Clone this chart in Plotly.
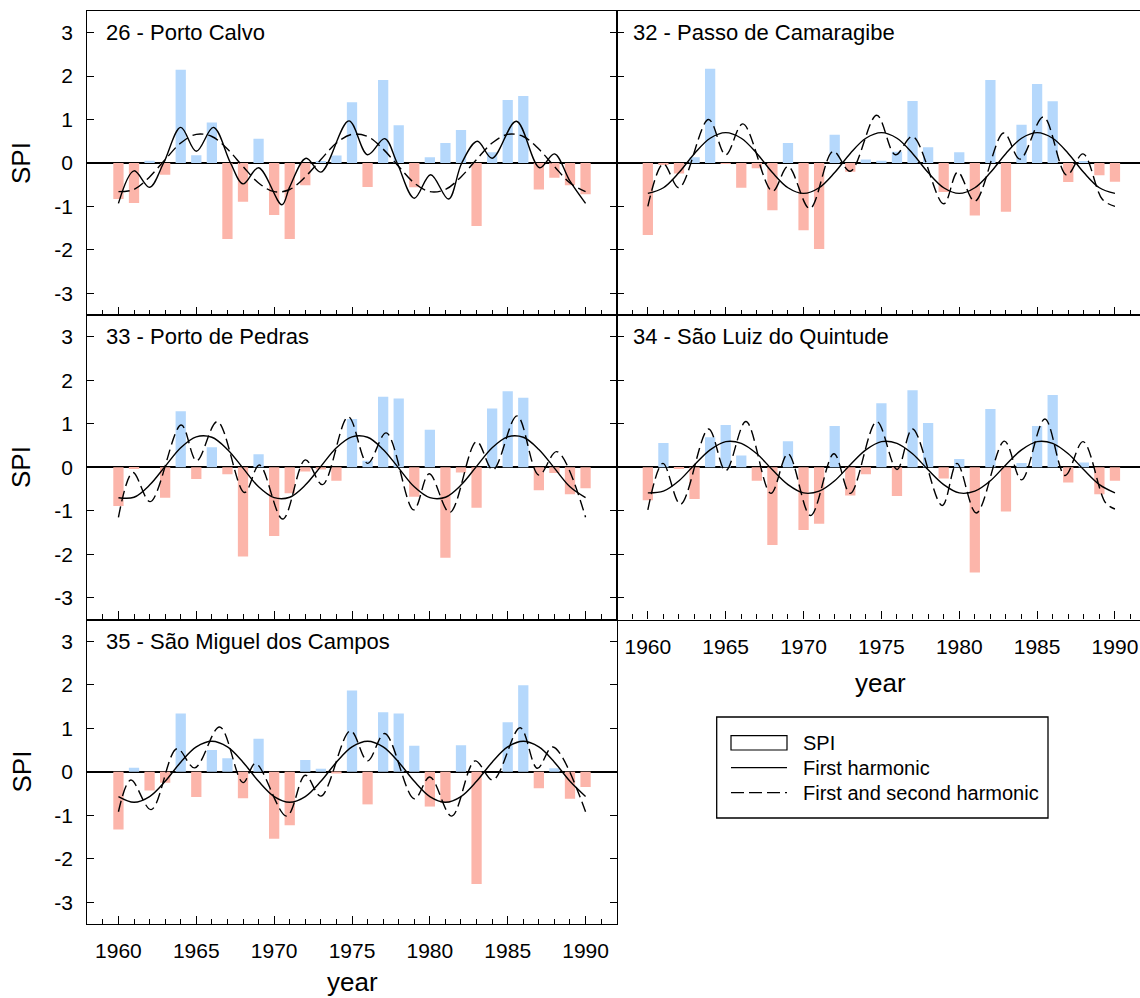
import plotly.graph_objects as go

# ---------------- data ----------------
years = list(range(1960, 1991))

titles = ["26 - Porto Calvo", "32 - Passo de Camaragibe", "33 - Porto de Pedras",
          "34 - São Luiz do Quintude", "35 - São Miguel dos Campos"]

spi_26 = [-0.83, -0.92, 0.05, -0.27, 2.15, 0.18, 0.93, -1.75, -0.89, 0.56,
          -1.20, -1.75, -0.51, 0.03, 0.17, 1.40, -0.55, 1.91, 0.87, -0.56,
          0.13, 0.46, 0.76, -1.45, 0.25, 1.45, 1.54, -0.61, -0.34, -0.51, -0.72]
spi_32 = [-1.66, -0.04, -0.24, 0.13, 2.17, -0.02, -0.57, -0.12, -1.09, 0.46,
          -1.55, -1.98, 0.65, -0.20, 0.08, 0.05, 0.26, 1.43, 0.36, -0.67,
          0.25, -1.21, 1.91, -1.12, 0.88, 1.82, 1.42, -0.44, 0.03, -0.28, -0.43]
spi_33 = [-0.89, -0.04, 0.0, -0.70, 1.29, -0.27, 0.46, -0.16, -2.05, 0.30,
          -1.58, -0.60, -0.10, -0.05, -0.31, 1.11, 0.15, 1.62, 1.58, -0.68,
          0.86, -2.08, -0.12, -0.93, 1.35, 1.75, 1.60, -0.53, -0.13, -0.62, -0.48]
spi_34 = [-0.76, 0.56, -0.04, -0.73, 0.69, 0.97, 0.27, -0.31, -1.79, 0.60,
          -1.44, -1.30, 0.95, -0.65, -0.16, 1.47, -0.66, 1.77, 1.02, -0.26,
          0.19, -2.42, 1.34, -1.02, 0.10, 0.95, 1.66, -0.35, 0.11, -0.62, -0.31]
spi_35 = [-1.33, 0.09, -0.43, -0.25, 1.34, -0.58, 0.50, 0.31, -0.61, 0.76,
          -1.54, -1.23, 0.27, 0.07, -0.04, 1.87, -0.75, 1.37, 1.34, 0.60,
          -0.80, -0.71, 0.61, -2.58, 0.0, 1.14, 1.99, -0.38, 0.08, -0.62, -0.35]

# first harmonic, read at each year
h1_26 = [-0.66, -0.61, -0.32, 0.08, 0.46, 0.66, 0.61, 0.32, -0.08, -0.46,
         -0.66, -0.61, -0.32, 0.08, 0.46, 0.66, 0.61, 0.32, -0.08, -0.46,
         -0.66, -0.61, -0.32, 0.08, 0.46, 0.66, 0.61, 0.32, -0.08, -0.46, -0.66]
h1_32 = [-0.70, -0.57, -0.22, 0.22, 0.57, 0.70, 0.57, 0.22, -0.22, -0.57,
         -0.70, -0.57, -0.22, 0.22, 0.57, 0.70, 0.57, 0.22, -0.22, -0.57,
         -0.70, -0.57, -0.22, 0.22, 0.57, 0.70, 0.57, 0.22, -0.22, -0.57, -0.70]
h1_33 = [-0.70, -0.69, -0.41, 0.02, 0.45, 0.70, 0.69, 0.41, -0.02, -0.45,
         -0.70, -0.69, -0.41, 0.02, 0.45, 0.70, 0.69, 0.41, -0.02, -0.45,
         -0.70, -0.69, -0.41, 0.02, 0.45, 0.70, 0.69, 0.41, -0.02, -0.45, -0.70]
h1_34 = [-0.59, -0.55, -0.31, 0.06, 0.40, 0.59, 0.55, 0.31, -0.06, -0.40,
         -0.59, -0.55, -0.31, 0.06, 0.40, 0.59, 0.55, 0.31, -0.06, -0.40,
         -0.59, -0.55, -0.31, 0.06, 0.40, 0.59, 0.55, 0.31, -0.06, -0.40, -0.59]
h1_35 = [-0.57, -0.70, -0.57, -0.22, 0.22, 0.57, 0.70, 0.57, 0.22, -0.22,
         -0.57, -0.70, -0.57, -0.22, 0.22, 0.57, 0.70, 0.57, 0.22, -0.22,
         -0.57, -0.70, -0.57, -0.22, 0.22, 0.57, 0.70, 0.57, 0.22, -0.22, -0.57]

# first + second harmonic, read at its turning points
h12_x_26 = [1960.0, 1961.0, 1962.0, 1962.9, 1964.0, 1965.0, 1966.1, 1967.2, 1968.0, 1969.0,
            1970.5, 1971.0, 1972.05, 1973.0, 1974.8, 1976.0, 1977.1, 1977.9, 1979.0, 1980.05,
            1981.2, 1982.05, 1983.05, 1984.0, 1985.55, 1987.05, 1988.0, 1989.0, 1990.0]
h12_y_26 = [-0.93, -0.18, -0.56, 0.0, 0.82, 0.27, 0.82, 0.0, -0.48, -0.11,
            -0.96, -0.55, 0.11, -0.21, 0.97, 0.19, 0.56, 0.0, -0.81, -0.27,
            -0.83, 0.0, 0.50, 0.11, 0.96, -0.11, 0.21, -0.42, -0.93]
h12_x_32 = [1960.0, 1961.0, 1962.0, 1963.9, 1965.0, 1966.1, 1968.0, 1969.0, 1970.4, 1971.9,
            1973.0, 1974.7, 1975.9, 1977.0, 1979.0, 1979.9, 1981.0, 1982.85, 1983.9, 1985.4,
            1986.9, 1987.95, 1989.2, 1990.0]
h12_y_32 = [-1.0, -0.02, -0.57, 1.0, 0.19, 0.90, -0.65, -0.08, -1.05, 0.27,
            -0.19, 1.10, 0.19, 0.61, -0.94, -0.21, -0.88, 0.69, 0.09, 1.06,
            -0.28, 0.21, -0.84, -1.0]
h12_x_33 = [1960.0, 1960.93, 1962.04, 1964.03, 1965.02, 1966.35, 1968.1, 1969.05, 1970.55, 1972.0,
            1973.1, 1974.76, 1976.0, 1977.2, 1978.96, 1979.96, 1981.28, 1983.0, 1984.05, 1985.6,
            1987.0, 1988.15, 1990.0]
h12_y_33 = [-1.15, -0.12, -0.79, 0.97, 0.15, 1.05, -0.58, 0.05, -1.19, 0.17,
            -0.40, 1.16, 0.09, 0.79, -0.98, -0.15, -1.04, 0.59, -0.06, 1.18,
            -0.18, 0.36, -1.15]
h12_x_34 = [1960.0, 1960.97, 1962.1, 1963.9, 1965.0, 1966.3, 1967.9, 1969.0, 1970.45, 1971.95,
            1973.0, 1974.7, 1976.0, 1977.0, 1978.9, 1979.85, 1981.1, 1982.9, 1984.0, 1985.5,
            1986.8, 1987.95, 1989.4, 1990.0]
h12_y_34 = [-0.98, 0.09, -0.85, 0.88, -0.08, 1.05, -0.60, 0.31, -1.11, 0.31,
            -0.60, 1.05, -0.05, 0.88, -0.88, 0.09, -1.05, 0.60, -0.29, 1.11,
            -0.19, 0.59, -0.82, -0.96]
h12_x_35 = [1960.0, 1960.8, 1962.1, 1963.75, 1964.9, 1966.5, 1968.0, 1968.8, 1970.8, 1972.0,
            1973.0, 1974.9, 1976.0, 1977.1, 1979.0, 1980.0, 1981.4, 1982.9, 1984.05, 1985.8,
            1986.9, 1987.9, 1990.0]
h12_y_35 = [-0.92, -0.19, -0.87, 0.53, 0.09, 1.03, -0.25, 0.19, -1.02, -0.08,
            -0.56, 0.94, 0.25, 0.88, -0.62, -0.12, -1.02, 0.25, -0.19, 1.01,
            0.08, 0.57, -0.92]

y_tick_vals = [-3, -2, -1, 0, 1, 2, 3]
y_tick_text = ["-3", "-2", "-1", "0", "1", "2", "3"]
legend_labels = ["SPI", "First harmonic", "First and second harmonic"]

# ---------------- styling / layout ----------------
W, H = 1140, 998
FONT = "Liberation Sans, Arial, sans-serif"
BLUE = "#b5d8fc"
RED = "#fcb5aa"

col_px = [(87.3, 616.7), (616.7, 1140.0)]
row_px = [(11.0, 315.0), (315.0, 619.5), (619.5, 924.0)]
px_per_year = (616.7 - 87.3) / 34.0
x_ranges = [[1958, 1992], [1958, 1958 + (1140.0 - 616.7) / px_per_year]]

panels = [
    dict(spi=spi_26, h1=h1_26, hx=h12_x_26, hy=h12_y_26, row=0, col=0, swap=True),
    dict(spi=spi_32, h1=h1_32, hx=h12_x_32, hy=h12_y_32, row=0, col=1, swap=False),
    dict(spi=spi_33, h1=h1_33, hx=h12_x_33, hy=h12_y_33, row=1, col=0, swap=False),
    dict(spi=spi_34, h1=h1_34, hx=h12_x_34, hy=h12_y_34, row=1, col=1, swap=False),
    dict(spi=spi_35, h1=h1_35, hx=h12_x_35, hy=h12_y_35, row=2, col=0, swap=False),
]

fig = go.Figure()
layout_axes = {}
annotations = []
DASH = "11px,5px"

for i, p in enumerate(panels, start=1):
    xa, ya = f"x{i}", f"y{i}"
    colors = [BLUE if v >= 0 else RED for v in p["spi"]]
    fig.add_trace(go.Bar(x=years, y=p["spi"], width=0.66, marker=dict(color=colors, line=dict(width=0)),
                         xaxis=xa, yaxis=ya, showlegend=False, hoverinfo="x+y"))
    h1_dash = DASH if p["swap"] else "solid"
    h12_dash = "solid" if p["swap"] else DASH
    fig.add_trace(go.Scatter(x=years, y=p["h1"], mode="lines", xaxis=xa, yaxis=ya, showlegend=False,
                             line=dict(color="black", width=1.4, shape="spline", dash=h1_dash)))
    fig.add_trace(go.Scatter(x=p["hx"], y=p["hy"], mode="lines", xaxis=xa, yaxis=ya, showlegend=False,
                             line=dict(color="black", width=1.4, shape="spline", dash=h12_dash)))

    x0, x1 = col_px[p["col"]]
    y0, y1 = row_px[p["row"]]
    show_x_labels = i in (4, 5)
    key = "" if i == 1 else str(i)
    layout_axes["xaxis" + key] = dict(
        domain=[x0 / W, x1 / W], range=x_ranges[p["col"]], anchor=ya,
        showline=True, linecolor="black", linewidth=1.3, mirror=True,
        ticks="inside", ticklen=8, tickwidth=1.2, tickcolor="black",
        tickmode="linear", tick0=1960, dtick=5,
        minor=dict(ticks="inside", ticklen=5, tickwidth=1, tickcolor="black", dtick=1, tick0=1958, showgrid=False),
        showticklabels=show_x_labels, ticklabelstandoff=8,
        tickfont=dict(family=FONT, size=21, color="black"),
        showgrid=False, zeroline=False, fixedrange=True,
    )
    layout_axes["yaxis" + key] = dict(
        domain=[1 - y1 / H, 1 - y0 / H], range=[-3.5, 3.5], anchor=xa,
        showline=True, linecolor="black", linewidth=1.3,
        mirror="ticks" if p["col"] == 0 else False,
        ticks="inside", ticklen=7, tickwidth=1.2, tickcolor="black",
        tickmode="array", tickvals=y_tick_vals, ticktext=y_tick_text,
        showticklabels=(p["col"] == 0), ticklabelstandoff=9,
        tickfont=dict(family=FONT, size=21, color="black"),
        showgrid=False, zeroline=True, zerolinecolor="black", zerolinewidth=1.6, fixedrange=True,
    )
    # panel title
    tx = 104.0 if p["col"] == 0 else 630.5
    annotations.append(dict(text=titles[i - 1], xref="paper", yref=ya, x=tx / W, y=3.0,
                            xanchor="left", yanchor="middle", showarrow=False,
                            font=dict(family=FONT, size=22, color="black")))

# y-axis titles
for cy in (163.3, 467.3, 771.8):
    annotations.append(dict(text="SPI", xref="paper", yref="paper", x=21.7 / W, y=1 - cy / H,
                            textangle=-90, xanchor="center", yanchor="middle", showarrow=False,
                            font=dict(family=FONT, size=26, color="black")))
# x-axis titles
for cx, cy in ((352.0, 982.0), (880.0, 683.0)):
    annotations.append(dict(text="year", xref="paper", yref="paper", x=cx / W, y=1 - cy / H,
                            xanchor="center", yanchor="middle", showarrow=False,
                            font=dict(family=FONT, size=26, color="black")))

# legend (drawn by hand to match the boxed style)
shapes = [
    dict(type="rect", xref="paper", yref="paper", x0=716.7 / W, x1=1048.0 / W,
         y0=1 - 818.0 / H, y1=1 - 717.0 / H, line=dict(color="black", width=1.3)),
    dict(type="rect", xref="paper", yref="paper", x0=731.0 / W, x1=787.0 / W,
         y0=1 - 750.0 / H, y1=1 - 735.7 / H, line=dict(color="black", width=1.2)),
    dict(type="line", xref="paper", yref="paper", x0=731.0 / W, x1=787.0 / W,
         y0=1 - 767.7 / H, y1=1 - 767.7 / H, line=dict(color="black", width=1.3)),
    dict(type="line", xref="paper", yref="paper", x0=731.0 / W, x1=787.0 / W,
         y0=1 - 792.7 / H, y1=1 - 792.7 / H, line=dict(color="black", width=1.3, dash="13px,5px")),
]
for lbl, cy in zip(legend_labels, (743.0, 767.7, 792.7)):
    annotations.append(dict(text=lbl, xref="paper", yref="paper", x=801.0 / W, y=1 - cy / H,
                            xanchor="left", yanchor="middle", showarrow=False,
                            font=dict(family=FONT, size=20, color="black")))

fig.update_layout(
    width=W, height=H, margin=dict(l=0, r=0, t=0, b=0),
    paper_bgcolor="white", plot_bgcolor="white",
    barmode="overlay", showlegend=False,
    annotations=annotations, shapes=shapes,
    **layout_axes,
)

fig.write_html("out.html")
